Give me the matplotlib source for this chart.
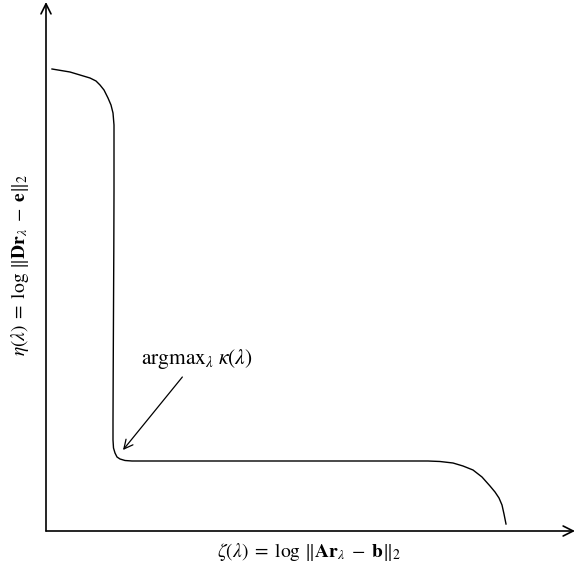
import matplotlib
matplotlib.use("Agg")
import matplotlib.pyplot as plt

plt.rcParams['mathtext.fontset'] = 'stix'
plt.rcParams['font.family'] = ['Liberation Serif', 'DejaVu Serif']

# L-curve samples (abstract units)
zeta = [6, 24, 44, 50, 54, 58, 62, 65, 67, 68, 68, 68, 67.8, 67.5, 67.2, 67, 67, 67.5,
        69, 71, 74, 79, 86, 150, 250, 382, 394, 407, 417, 427, 436, 444, 449, 453, 456,
        458, 460]
eta = [462, 459, 453, 450, 446, 441, 433, 426, 418, 406, 391, 340, 280, 220, 160, 110, 91, 83,
       78, 74, 72, 70.5, 70, 70, 70, 70, 69.5, 68, 65, 61, 54, 45, 39, 33, 26,
       17, 7]

xlabel = r'$\zeta(\lambda)\;=\;\log\,\|\mathbf{Ar}_{\lambda}\;-\;\mathbf{b}\|_2$'
ylabel = r'$\eta(\lambda)\;=\;\log\,\|\mathbf{Dr}_{\lambda}\;-\;\mathbf{e}\|_2$'
annot_text = r'$\mathrm{argmax}_{\lambda}\;\kappa(\lambda)$'
annot_point = (77, 81)
annot_text_pos = (151, 160)

W, H = 575, 569
fig = plt.figure(figsize=(W / 100, H / 100), dpi=100)
x0, y0 = 46, 531
ax = fig.add_axes([x0 / W, (H - y0) / H, (W - x0) / W, (y0 - 2) / H])
ax.set_xlim(0, W - x0)
ax.set_ylim(0, y0 - 2)
for s in ax.spines.values():
    s.set_visible(False)
ax.set_xticks([])
ax.set_yticks([])
ax.patch.set_alpha(0)

# axes with arrows
ax.annotate('', xy=(1, 0), xytext=(0, 0), xycoords='axes fraction',
            arrowprops=dict(arrowstyle='->', lw=1.2, color='black',
                            mutation_scale=18, shrinkA=0, shrinkB=0))
ax.annotate('', xy=(0, 1), xytext=(0, 0), xycoords='axes fraction',
            arrowprops=dict(arrowstyle='->', lw=1.2, color='black',
                            mutation_scale=18, shrinkA=0, shrinkB=0))

ax.plot(zeta, eta, color='black', lw=1.0, solid_joinstyle='round')

ax.annotate(annot_text, xy=annot_point, xytext=annot_text_pos,
            fontsize=15.5, ha='center', va='bottom',
            arrowprops=dict(arrowstyle='->', lw=0.9, color='black',
                            mutation_scale=16, shrinkA=3, shrinkB=0))

fig.text(309 / W, 1 - 552 / H, xlabel, fontsize=14, ha='center', va='center')
fig.text(20 / W, 1 - 265 / H, ylabel, fontsize=14, ha='center', va='center', rotation=90)

fig.savefig('out.png', dpi=100)
